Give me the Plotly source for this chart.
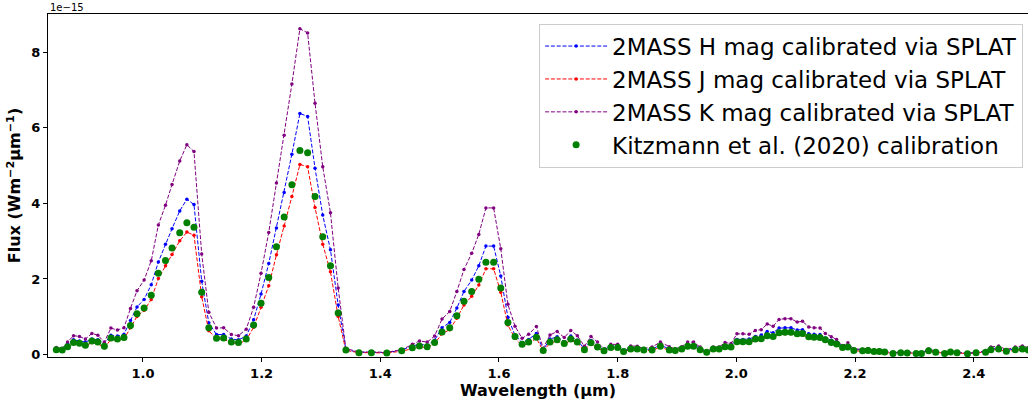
import plotly.graph_objects as go

# Wavelength (micron)
wavelength = [
    0.854, 0.864, 0.873, 0.883, 0.893, 0.903, 0.914, 0.924, 0.935, 0.946,
    0.957, 0.968, 0.979, 0.990, 1.002, 1.014, 1.026, 1.038, 1.049, 1.062,
    1.074, 1.086, 1.099, 1.111, 1.124, 1.136, 1.149, 1.161, 1.174, 1.1865,
    1.199, 1.212, 1.225, 1.238, 1.251, 1.2645, 1.2775, 1.290, 1.303, 1.316,
    1.329, 1.342, 1.364, 1.385, 1.411, 1.436, 1.454, 1.466, 1.479, 1.4915,
    1.504, 1.517, 1.529, 1.541, 1.554, 1.566, 1.578, 1.591, 1.603, 1.615,
    1.627, 1.639, 1.650, 1.663, 1.6745, 1.686, 1.698, 1.710, 1.721, 1.732,
    1.744, 1.755, 1.766, 1.777, 1.7885, 1.800, 1.810, 1.822, 1.833, 1.844,
    1.858, 1.872, 1.887, 1.897, 1.908, 1.918, 1.928, 1.939, 1.950, 1.961,
    1.971, 1.981, 1.991, 2.001, 2.011, 2.0215, 2.032, 2.042, 2.052, 2.062,
    2.072, 2.082, 2.092, 2.1025, 2.1115, 2.122, 2.131, 2.141, 2.150, 2.160,
    2.169, 2.179, 2.188, 2.198, 2.2126, 2.222, 2.232, 2.241, 2.250, 2.264,
    2.277, 2.288, 2.303, 2.312, 2.324, 2.336, 2.351, 2.361, 2.372, 2.3895,
    2.404, 2.420, 2.429, 2.442, 2.455, 2.470, 2.482, 2.492,
]

# Flux in units of 1e-15 W m^-2 um^-1
flux_h = [
    0.16, 0.13, 0.29, 0.39, 0.36, 0.33, 0.41, 0.39, 0.29, 0.51,
    0.49, 0.54, 0.90, 1.26, 1.46, 1.85, 2.45, 2.92, 3.33, 3.80,
    4.11, 3.97, 1.94, 0.84, 0.53, 0.53, 0.41, 0.39, 0.49, 0.92,
    1.60, 2.41, 3.35, 4.29, 5.30, 6.38, 6.30, 4.93, 3.69, 2.77,
    1.31, 0.13, 0.06, 0.06, 0.05, 0.12, 0.23, 0.27, 0.25, 0.38,
    0.71, 0.85, 1.23, 1.67, 1.97, 2.35, 2.87, 2.87, 2.08, 0.99,
    0.51, 0.32, 0.40, 0.56, 0.13, 0.41, 0.47, 0.34, 0.49, 0.38,
    0.15, 0.37, 0.24, 0.12, 0.23, 0.23, 0.09, 0.18, 0.18, 0.14,
    0.14, 0.26, 0.14, 0.13, 0.18, 0.26, 0.26, 0.16, 0.07, 0.18,
    0.18, 0.25, 0.24, 0.40, 0.40, 0.41, 0.48, 0.52, 0.61, 0.58,
    0.70, 0.71, 0.71, 0.65, 0.66, 0.55, 0.54, 0.53, 0.44, 0.38,
    0.33, 0.22, 0.24, 0.13, 0.12, 0.13, 0.10, 0.10, 0.08, 0.04,
    0.06, 0.05, 0.04, 0.04, 0.12, 0.07, 0.04, 0.08, 0.06, 0.02,
    0.06, 0.07, 0.15, 0.18, 0.11, 0.15, 0.18, 0.14,
]

flux_j = [
    0.11, 0.10, 0.19, 0.29, 0.27, 0.22, 0.32, 0.29, 0.18, 0.40,
    0.38, 0.41, 0.71, 1.01, 1.17, 1.46, 2.01, 2.35, 2.65, 3.01,
    3.24, 3.16, 1.53, 0.63, 0.41, 0.41, 0.31, 0.28, 0.38, 0.72,
    1.25, 1.82, 2.64, 3.40, 4.18, 5.03, 4.97, 3.89, 2.92, 2.19,
    1.01, 0.11, 0.05, 0.05, 0.04, 0.09, 0.16, 0.20, 0.19, 0.29,
    0.55, 0.66, 0.96, 1.31, 1.54, 1.84, 2.27, 2.27, 1.65, 0.78,
    0.43, 0.24, 0.30, 0.43, 0.10, 0.30, 0.36, 0.27, 0.38, 0.30,
    0.12, 0.29, 0.18, 0.09, 0.17, 0.17, 0.07, 0.14, 0.14, 0.11,
    0.11, 0.20, 0.11, 0.10, 0.14, 0.20, 0.20, 0.12, 0.05, 0.14,
    0.14, 0.19, 0.19, 0.32, 0.32, 0.32, 0.38, 0.39, 0.47, 0.45,
    0.54, 0.55, 0.55, 0.51, 0.52, 0.44, 0.43, 0.42, 0.36, 0.30,
    0.26, 0.18, 0.19, 0.10, 0.09, 0.10, 0.07, 0.07, 0.06, 0.03,
    0.05, 0.04, 0.03, 0.03, 0.09, 0.06, 0.03, 0.07, 0.05, 0.02,
    0.05, 0.06, 0.12, 0.14, 0.08, 0.12, 0.14, 0.11,
]

flux_k = [
    0.19, 0.16, 0.33, 0.50, 0.48, 0.41, 0.56, 0.51, 0.33, 0.70,
    0.65, 0.71, 1.22, 1.69, 1.97, 2.48, 3.43, 3.95, 4.50, 5.12,
    5.55, 5.37, 2.66, 1.12, 0.70, 0.71, 0.53, 0.50, 0.67, 1.25,
    2.15, 3.23, 4.54, 5.80, 7.16, 8.62, 8.51, 6.65, 4.97, 3.75,
    1.76, 0.16, 0.07, 0.07, 0.06, 0.13, 0.27, 0.36, 0.33, 0.49,
    0.94, 1.14, 1.67, 2.25, 2.68, 3.18, 3.88, 3.88, 2.80, 1.33,
    0.75, 0.43, 0.54, 0.74, 0.17, 0.52, 0.61, 0.45, 0.64, 0.50,
    0.22, 0.48, 0.33, 0.15, 0.27, 0.27, 0.11, 0.23, 0.22, 0.16,
    0.20, 0.33, 0.21, 0.15, 0.21, 0.33, 0.33, 0.20, 0.06, 0.20,
    0.20, 0.32, 0.29, 0.55, 0.55, 0.54, 0.64, 0.66, 0.81, 0.75,
    0.93, 0.95, 0.95, 0.86, 0.88, 0.73, 0.71, 0.70, 0.56, 0.47,
    0.40, 0.24, 0.31, 0.15, 0.14, 0.16, 0.12, 0.12, 0.10, 0.05,
    0.07, 0.06, 0.05, 0.05, 0.15, 0.09, 0.05, 0.10, 0.07, 0.03,
    0.07, 0.09, 0.20, 0.23, 0.13, 0.20, 0.23, 0.18,
]

flux_kitzmann = [
    0.13, 0.12, 0.21, 0.32, 0.30, 0.25, 0.36, 0.33, 0.22, 0.44,
    0.41, 0.45, 0.77, 1.08, 1.23, 1.57, 2.15, 2.49, 2.82, 3.22,
    3.49, 3.37, 1.65, 0.71, 0.43, 0.44, 0.33, 0.32, 0.41, 0.78,
    1.36, 2.04, 2.85, 3.64, 4.49, 5.40, 5.34, 4.18, 3.12, 2.35,
    1.10, 0.12, 0.05, 0.05, 0.04, 0.10, 0.18, 0.23, 0.21, 0.32,
    0.60, 0.71, 1.03, 1.41, 1.67, 1.99, 2.44, 2.44, 1.76, 0.85,
    0.48, 0.27, 0.33, 0.46, 0.11, 0.33, 0.39, 0.29, 0.41, 0.33,
    0.13, 0.31, 0.20, 0.10, 0.19, 0.19, 0.08, 0.15, 0.15, 0.12,
    0.12, 0.22, 0.12, 0.11, 0.15, 0.22, 0.22, 0.13, 0.06, 0.15,
    0.15, 0.21, 0.20, 0.34, 0.34, 0.34, 0.41, 0.42, 0.50, 0.48,
    0.58, 0.59, 0.59, 0.55, 0.56, 0.47, 0.46, 0.45, 0.39, 0.32,
    0.28, 0.19, 0.20, 0.11, 0.10, 0.11, 0.08, 0.08, 0.07, 0.03,
    0.05, 0.04, 0.03, 0.03, 0.10, 0.06, 0.03, 0.07, 0.05, 0.02,
    0.05, 0.06, 0.13, 0.15, 0.09, 0.13, 0.15, 0.12,
]

x_ticks = [1.0, 1.2, 1.4, 1.6, 1.8, 2.0, 2.2, 2.4]
y_ticks = [0, 2, 4, 6, 8]

FONT = "DejaVu Sans"

fig = go.Figure()

def splat_trace(y, color, name):
    return go.Scatter(
        x=wavelength, y=y, mode="lines+markers", name=name,
        line=dict(color=color, width=1, dash="4px,1.8px"),
        marker=dict(color=color, size=3.5, symbol="circle"),
    )

fig.add_trace(splat_trace(flux_h, "blue", "2MASS H mag calibrated via SPLAT"))
fig.add_trace(splat_trace(flux_j, "red", "2MASS J mag calibrated via SPLAT"))
fig.add_trace(splat_trace(flux_k, "purple", "2MASS K mag calibrated via SPLAT"))
fig.add_trace(go.Scatter(
    x=wavelength, y=flux_kitzmann, mode="markers",
    name="Kitzmann et al. (2020) calibration",
    marker=dict(color="green", size=7, symbol="circle"),
))

fig.update_layout(
    width=1028, height=401,
    margin=dict(l=48, r=0, t=14, b=44),
    paper_bgcolor="white", plot_bgcolor="white",
    font=dict(family=FONT, color="black"),
    showlegend=True,
    legend=dict(
        x=0.995, y=0.972, xanchor="right", yanchor="top",
        bgcolor="rgba(255,255,255,0.8)", bordercolor="#cccccc", borderwidth=1,
        font=dict(family=FONT, size=23, color="black"),
        itemwidth=62, tracegroupgap=0,
    ),
    xaxis=dict(
        range=[0.840, 2.4915],
        tickvals=x_ticks, tickformat=".1f",
        ticks="outside", ticklen=4, tickwidth=1, tickcolor="black",
        showline=True, linecolor="black", linewidth=1, mirror=True,
        showgrid=False, zeroline=False,
        tickfont=dict(family=FONT, size=13, weight="bold", color="black"),
        title=dict(text="Wavelength (μm)", standoff=0,
                   font=dict(family=FONT, size=16, weight="bold", color="black")),
    ),
    yaxis=dict(
        range=[-0.064, 9.01],
        tickvals=y_ticks,
        ticks="outside", ticklen=4, tickwidth=1, tickcolor="black",
        showline=True, linecolor="black", linewidth=1, mirror=False,
        showgrid=False, zeroline=False,
        tickfont=dict(family=FONT, size=13, weight="bold", color="black"),
        title=dict(text="Flux (Wm<sup>−2</sup>μm<sup>−1</sup>)", standoff=6,
                   font=dict(family=FONT, size=16, weight="bold", color="black")),
    ),
    annotations=[dict(
        text="1e−15", xref="paper", yref="paper", x=0, y=1,
        xanchor="left", yanchor="bottom", showarrow=False,
        font=dict(family=FONT, size=10, color="black"), yshift=-1,
    )],
)

fig.write_html("out.html")
